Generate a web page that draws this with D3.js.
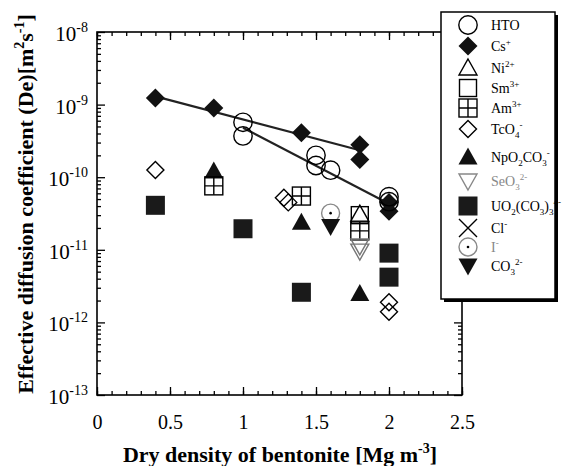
<!DOCTYPE html>
<html><head><meta charset="utf-8">
<script src="https://cdn.jsdelivr.net/npm/d3@7"></script>
<style>body{margin:0;background:#fff}</style>
</head><body><svg id="c" width="565" height="466"></svg>
<script>
// ---- data ----
const xTicks = [0, 0.5, 1, 1.5, 2, 2.5];
const xTickLabels = ["0", "0.5", "1", "1.5", "2", "2.5"];
const yTicks = [1e-13, 1e-12, 1e-11, 1e-10, 1e-9, 1e-8];
const yTickExps = ["-13", "-12", "-11", "-10", "-9", "-8"];

const htoDensity = [1.0, 1.0, 1.5, 1.5, 1.6, 2.0, 2.0];
const htoDe = [5.7e-10, 3.7e-10, 2.0e-10, 1.45e-10, 1.25e-10, 5.4e-11, 4.6e-11];
const csDensity = [0.4, 0.8, 1.4, 1.8, 1.8, 2.0, 2.0];
const csDe = [1.23e-9, 9.0e-10, 4.1e-10, 2.8e-10, 1.75e-10, 4.5e-11, 3.4e-11];
const niDensity = [1.8];
const niDe = [3.1e-11];
const smDensity = [1.8];
const smDe = [3.0e-11];
const amDensity = [0.8, 1.4, 1.8];
const amDe = [7.6e-11, 5.5e-11, 1.82e-11];
const tcDensity = [0.4, 1.28, 1.31, 2.0, 2.0];
const tcDe = [1.26e-10, 5.2e-11, 4.5e-11, 1.9e-12, 1.4e-12];
const npDensity = [0.8, 1.4, 1.8];
const npDe = [1.22e-10, 2.4e-11, 2.5e-12];
const seDensity = [1.8, 1.8];
const seDe = [1.13e-11, 9.6e-12];
const uoDensity = [0.4, 1.0, 1.4, 2.0, 2.0];
const uoDe = [4.1e-11, 1.95e-11, 2.6e-12, 9.0e-12, 4.2e-12];
const clDensity = [];
const clDe = [];
const iDensity = [1.6];
const iDe = [3.2e-11];
const co3Density = [1.6];
const co3De = [2.1e-11];
const csFitDensity = [0.4, 1.8];
const csFitDe = [1.3e-9, 2.35e-10];
const htoFitDensity = [1.0, 2.0];
const htoFitDe = [4.8e-10, 4.3e-11];

const legendMarkers = ["circle","diamondF","triUp","square","crossSq","diamond","triUpF","triDown","squareF","x","dotCircle","triDownF"];
const legendLabels = [
  [["HTO",""]],
  [["Cs",""],["+","sup"]],
  [["Ni",""],["2+","sup"]],
  [["Sm",""],["3+","sup"]],
  [["Am",""],["3+","sup"]],
  [["TcO",""],["4","sub"],["-","supAfterSub"]],
  [["NpO",""],["2","sub"],["CO",""],["3","sub"],["-","supAfterSub"]],
  [["SeO",""],["3","sub"],["2-","supAfterSub"]],
  [["UO",""],["2","sub"],["(CO",""],["3","sub"],[")",""],["3","sub"],["4-","supAfterSub"]],
  [["Cl",""],["-","sup"]],
  [["I",""],["-","sup"]],
  [["CO",""],["3","sub"],["2-","supAfterSub"]]
];
const legendColors = ["#000","#000","#000","#000","#000","#000","#000","#888","#000","#000","#888","#000"];
const legendRowY = [25, 46, 68, 88, 108, 129, 157, 181, 206, 228, 247, 266];

// ---- drawing ----
const svg = d3.select("#c");
const serif = "'Liberation Serif','Times New Roman',serif";
const x = d3.scaleLinear().domain([0, 2.5]).range([97, 462]);
const y = d3.scaleLog().domain([1e-13, 1e-8]).range([395, 32]);

const ink = "#111";
function marker(g, type, cx, cy, color) {
  color = color || "#000";
  const s = g.append("g").attr("transform", `translate(${cx},${cy})`);
  const sw = 1.4;
  if (type === "circle") s.append("circle").attr("r", 9.2).attr("fill", "none").attr("stroke", color).attr("stroke-width", sw);
  else if (type === "dotCircle") { s.append("circle").attr("r", 9).attr("fill", "none").attr("stroke", color).attr("stroke-width", sw); s.append("circle").attr("r", 1.3).attr("fill", "#000"); }
  else if (type === "diamondF") s.append("path").attr("d", "M0,-9.5L9.5,0L0,9.5L-9.5,0Z").attr("fill", ink);
  else if (type === "diamond") s.append("path").attr("d", "M0,-8.5L8.5,0L0,8.5L-8.5,0Z").attr("fill", "none").attr("stroke", color).attr("stroke-width", sw);
  else if (type === "square") s.append("rect").attr("x", -8.5).attr("y", -8.5).attr("width", 17).attr("height", 17).attr("fill", "none").attr("stroke", color).attr("stroke-width", sw);
  else if (type === "squareF") s.append("rect").attr("x", -9.5).attr("y", -9.5).attr("width", 19).attr("height", 19).attr("fill", "#1a1a1a");
  else if (type === "crossSq") {
    s.append("rect").attr("x", -9).attr("y", -9).attr("width", 18).attr("height", 18).attr("fill", "none").attr("stroke", color).attr("stroke-width", sw);
    s.append("path").attr("d", "M0,-9V9M-9,0H9").attr("stroke", color).attr("stroke-width", sw);
  }
  else if (type === "triUp") s.append("path").attr("d", "M0,-9L9,7L-9,7Z").attr("fill", "none").attr("stroke", color).attr("stroke-width", sw);
  else if (type === "triUpF") s.append("path").attr("d", "M0,-9.5L9.5,7.5L-9.5,7.5Z").attr("fill", ink);
  else if (type === "triDown") s.append("path").attr("d", "M0,9L9,-7L-9,-7Z").attr("fill", "none").attr("stroke", color).attr("stroke-width", sw);
  else if (type === "triDownF") s.append("path").attr("d", "M0,9.5L9.5,-7.5L-9.5,-7.5Z").attr("fill", ink);
  else if (type === "x") s.append("path").attr("d", "M-9,-9L9,9M9,-9L-9,9").attr("stroke", color).attr("stroke-width", sw);
}

// axes: minor + major, inward ticks
const xMinor = d3.range(0, 26).map(i => i / 10);
const yMinor = [];
for (let e = -13; e < -8; e++) for (let k = 2; k <= 9; k++) yMinor.push(k * Math.pow(10, e));

function axisStyle(g) { g.select(".domain").remove(); g.selectAll("line").attr("stroke", "#000").attr("stroke-width", 1.3); }

svg.append("g").attr("transform", "translate(0,395)").call(d3.axisBottom(x).tickValues(xMinor).tickSize(-4).tickFormat("")).call(axisStyle);
svg.append("g").attr("transform", "translate(0,32)").call(d3.axisTop(x).tickValues(xMinor).tickSize(-4).tickFormat("")).call(axisStyle);
const xb = svg.append("g").attr("transform", "translate(0,395)")
  .call(d3.axisBottom(x).tickValues(xTicks).tickSize(-8).tickPadding(20).tickFormat((d, i) => xTickLabels[i])).call(axisStyle);
xb.selectAll("text").attr("font-family", serif).attr("font-size", 20).attr("fill", "#000");
svg.append("g").attr("transform", "translate(0,32)").call(d3.axisTop(x).tickValues(xTicks).tickSize(-8).tickFormat("")).call(axisStyle);

svg.append("g").attr("transform", "translate(97,0)").call(d3.axisLeft(y).tickValues(yMinor).tickSize(-4).tickFormat("")).call(axisStyle);
svg.append("g").attr("transform", "translate(462,0)").call(d3.axisRight(y).tickValues(yMinor).tickSize(-4).tickFormat("")).call(axisStyle);
const yl = svg.append("g").attr("transform", "translate(97,0)")
  .call(d3.axisLeft(y).tickValues(yTicks).tickSize(-8).tickPadding(9).tickFormat(() => "")).call(axisStyle);
yl.selectAll(".tick text").each(function(d, i) {
  const t = d3.select(this).attr("font-family", serif).attr("font-size", 21).attr("fill", "#000").attr("dy", "0.4em");
  t.append("tspan").text("10");
  t.append("tspan").attr("dy", -9).attr("font-size", 14).text(yTickExps[i]);
});
svg.append("g").attr("transform", "translate(462,0)").call(d3.axisRight(y).tickValues(yTicks).tickSize(-8).tickFormat("")).call(axisStyle);

svg.append("rect").attr("x", 97).attr("y", 32).attr("width", 365).attr("height", 363)
  .attr("fill", "none").attr("stroke", "#000").attr("stroke-width", 1.6);

// fit lines
const line = d3.line().x(d => x(d[0])).y(d => y(d[1]));
svg.append("path").datum(csFitDensity.map((d, i) => [d, csFitDe[i]])).attr("d", line).attr("stroke", "#222").attr("stroke-width", 2.2).attr("fill", "none");
svg.append("path").datum(htoFitDensity.map((d, i) => [d, htoFitDe[i]])).attr("d", line).attr("stroke", "#222").attr("stroke-width", 2.2).attr("fill", "none");

// markers
const series = [
  [uoDensity, uoDe, "squareF", "#000"],
  [npDensity, npDe, "triUpF", "#000"],
  [tcDensity, tcDe, "diamond", "#000"],
  [amDensity, amDe, "crossSq", "#000"],
  [smDensity, smDe, "square", "#000"],
  [niDensity, niDe, "triUp", "#000"],
  [seDensity, seDe, "triDown", "#777"],
  [clDensity, clDe, "x", "#000"],
  [iDensity, iDe, "dotCircle", "#888"],
  [co3Density, co3De, "triDownF", "#000"],
  [csDensity, csDe, "diamondF", "#000"],
  [htoDensity, htoDe, "circle", "#000"]
];
const pts = svg.append("g");
series.forEach(([xs, ys, type, col]) => xs.forEach((d, i) => marker(pts, type, x(d), y(ys[i]), col)));

// legend
const lg = svg.append("g");
lg.append("rect").attr("x", 444).attr("y", 15).attr("width", 114).attr("height", 287).attr("fill", "#000");
lg.append("rect").attr("x", 441).attr("y", 12).attr("width", 114).attr("height", 287).attr("fill", "#fff").attr("stroke", "#000").attr("stroke-width", 1.5);
legendMarkers.forEach((m, i) => {
  marker(lg, m, 468, legendRowY[i], legendColors[i] === "#888" ? "#888" : "#000");
  const t = lg.append("text").attr("x", 491).attr("y", legendRowY[i] + 5).attr("font-family", serif).attr("font-size", 14).attr("fill", legendColors[i]);
  let shift = 0;
  legendLabels[i].forEach(([s, kind]) => {
    const ts = t.append("tspan").text(s);
    if (kind === "sup") { ts.attr("dy", -6 - shift).attr("font-size", 9); shift = -6; }
    else if (kind === "sub") { ts.attr("dy", 4 - shift).attr("font-size", 9); shift = 4; }
    else if (kind === "supAfterSub") { ts.attr("dy", -10).attr("font-size", 9).attr("dx", 0); shift = -6; }
    else { if (shift !== 0) ts.attr("dy", -shift); shift = 0; }
  });
});

// axis titles
const xt = svg.append("text").attr("x", 280).attr("y", 462).attr("text-anchor", "middle")
  .attr("font-family", serif).attr("font-size", 22).attr("font-weight", "bold").attr("fill", "#000");
xt.append("tspan").text("Dry density of bentonite [Mg m");
xt.append("tspan").attr("dy", -9).attr("font-size", 14).text("-3");
xt.append("tspan").attr("dy", 9).text("]");

const yt = svg.append("text").attr("transform", "translate(33,204) rotate(-90)").attr("text-anchor", "middle")
  .attr("font-family", serif).attr("font-size", 22).attr("font-weight", "bold").attr("fill", "#000");
yt.append("tspan").text("Effective diffusion coefficient (De)[m");
yt.append("tspan").attr("dy", -9).attr("font-size", 14).text("2");
yt.append("tspan").attr("dy", 9).text("s");
yt.append("tspan").attr("dy", -9).attr("font-size", 14).text("-1");
yt.append("tspan").attr("dy", 9).text("]");
</script>
</body></html>
